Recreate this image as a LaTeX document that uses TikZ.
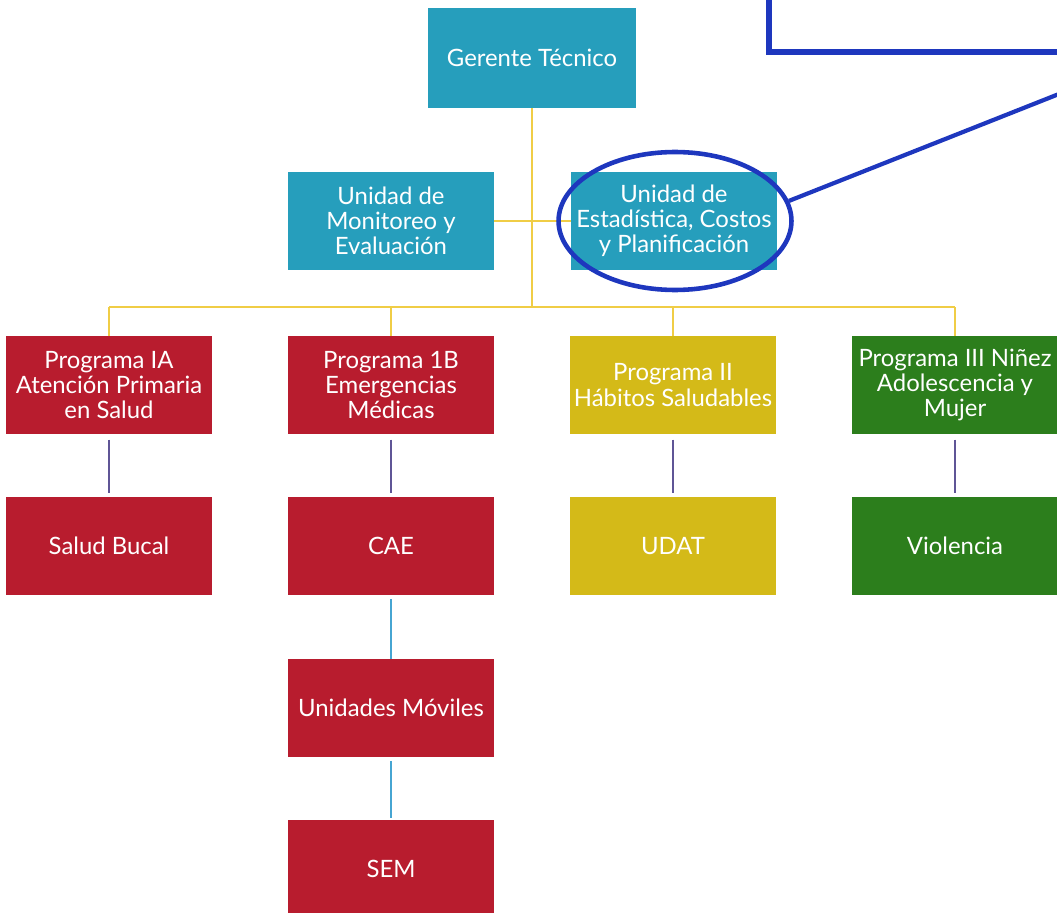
\documentclass[tikz,border=0pt]{standalone}
\usepackage{fontspec}
\setmainfont{Lato}
\usetikzlibrary{shapes.geometric}

\definecolor{tealbox}{RGB}{38,158,188}
\definecolor{rojo}{RGB}{184,28,46}
\definecolor{ocre}{RGB}{212,186,24}
\definecolor{verde}{RGB}{44,126,28}
\definecolor{amarillo}{RGB}{240,205,70}
\definecolor{morado}{RGB}{95,85,150}
\definecolor{celeste}{RGB}{70,165,210}
\definecolor{azul}{RGB}{30,55,190}

\tikzset{
  caja/.style={rectangle, minimum width=4.12cm, minimum height=1.96cm,
    inner sep=1pt, align=center, text=white,
    font=\fontsize{13.6}{14.3}\selectfont},
  enlace/.style={line width=0.9pt}
}

\begin{document}
\begin{tikzpicture}[x=0.02cm, y=-0.02cm]
  \useasboundingbox (0,0) rectangle (1057,912);
  \clip (0,0) rectangle (1057,912);
  % cajas
  \node[caja, fill=tealbox, minimum width=4.16cm, minimum height=2cm] (gt) at (532,58) {Gerente Técnico};
  \node[caja, fill=tealbox] (mon) at (391,221) {Unidad de\\Monitoreo y\\Evaluación};
  \node[caja, fill=tealbox] (est) at (674,221) {Unidad de\\Estadística, Costos\\y Planificación};
  \node[caja, fill=rojo] (pia) at (109,385) {Programa IA\\Atención Primaria\\en Salud};
  \node[caja, fill=rojo] (pib) at (391,385) {Programa 1B\\Emergencias\\Médicas};
  \node[caja, fill=ocre] (pii) at (673,385) {Programa II\\Hábitos Saludables};
  \node[caja, fill=verde] (piii) at (955,385) {Programa III Niñez\\Adolescencia y\\Mujer};
  \node[caja, fill=rojo] (sb) at (109,546) {Salud Bucal};
  \node[caja, fill=rojo] (cae) at (391,546) {CAE};
  \node[caja, fill=ocre] (udat) at (673,546) {UDAT};
  \node[caja, fill=verde] (vio) at (955,546) {Violencia};
  \node[caja, fill=rojo] (um) at (391,708) {Unidades Móviles};
  \node[caja, fill=rojo] (sem) at (391,869) {SEM};

  % lineas
  \coordinate (bus) at (532,307);
  \draw[enlace, amarillo] (gt) -- (bus);
  \draw[enlace, amarillo] (mon) -- (est);
  \draw[enlace, amarillo] (pia |- bus) -- (piii |- bus);
  \foreach \p in {pia,pib,pii,piii}
    \draw[enlace, amarillo] (\p |- bus) -- (\p.north);
  \foreach \a/\b in {pia/sb,pib/cae,pii/udat,piii/vio}
    \draw[enlace, morado, shorten <=3pt, shorten >=2pt] (\a) -- (\b);
  \draw[enlace, celeste, shorten <=2pt] (cae) -- (um);
  \draw[enlace, celeste, shorten <=2pt, shorten >=1pt] (um) -- (sem);

  % resaltado
  \node[ellipse, draw=azul, line width=2.6pt, minimum width=4.66cm,
    minimum height=2.76cm] (marca) at (675,221) {};
  \coordinate (fin) at (1064,92);
  \draw[azul, line width=2.4pt] (marca.10) -- (fin);
  \draw[azul, line width=3pt] (769,-20) -- (769,52) -- (1080,52);
\end{tikzpicture}
\end{document}
